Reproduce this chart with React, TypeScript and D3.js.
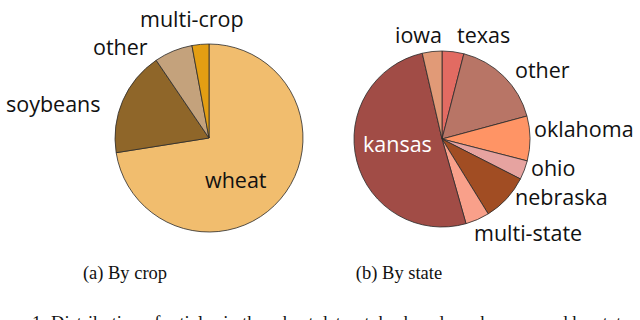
import * as d3 from 'd3';
import React from 'react';

// crop pie (clockwise from 12 o'clock)
const cropNames = ['wheat', 'soybeans', 'other', 'multi-crop'];
const cropShares = [72.5, 18.0, 6.6, 2.9];
const cropColors = ['#F1BD6E', '#8F6629', '#C4A27C', '#E39E13'];

// state pie (clockwise from 12 o'clock)
const stateNames = ['texas', 'other', 'oklahoma', 'ohio', 'nebraska', 'multi-state', 'kansas', 'iowa'];
const stateShares = [4.0, 16.8, 8.2, 3.5, 8.7, 4.4, 50.8, 3.6];
const stateColors = ['#E26B62', '#B87566', '#FF9465', '#E6A3A0', '#A14D23', '#F9A08A', '#A14C46', '#E19A77'];

const subCaptions = ['(a) By crop', '(b) By state'];
const figCaption = '1: Distribution of articles in the wheat dataset, broken down by crop and by state';

// label anchors (left x, baseline y) per slice
const cropLabelPos = [[205, 188], [6, 112], [93, 55], [140, 27]];
const stateLabelPos = [[457, 43], [515, 78], [534, 137], [531, 176], [515, 205], [474, 241], [363, 152], [395, 43]];

function Pie({ cx, cy, r, values, colors, names, labels, white }) {
  const arcs = d3.pie<number>().sort(null).value((d) => d)(values);
  const arc = d3.arc<d3.PieArcDatum<number>>().innerRadius(0).outerRadius(r);
  return (
    <g>
      <g transform={`translate(${cx},${cy})`}>
        {arcs.map((a, i) => (
          <path key={i} d={arc(a) || ''} fill={colors[i]} stroke="#2a2a2a" strokeWidth={0.8} strokeLinejoin="round" />
        ))}
      </g>
      {names.map((n, i) => (
        <text key={n + i} x={labels[i][0]} y={labels[i][1]}
          fill={white === n ? '#fff' : '#111'}
          style={{ fontFamily: 'Open Sans, sans-serif', fontSize: 21.5 }}>{n}</text>
      ))}
    </g>
  );
}

export default function App() {
  return (
    <svg width={640} height={320} style={{ position: 'absolute', left: 0, top: 0, background: '#fff' }}>
      <rect width={640} height={320} fill="#fff" />
      <Pie cx={209} cy={138} r={94} values={cropShares} colors={cropColors} names={cropNames} labels={cropLabelPos} white={null} />
      <Pie cx={442} cy={139} r={88} values={stateShares} colors={stateColors} names={stateNames} labels={stateLabelPos} white="kansas" />
      <g style={{ fontFamily: 'Liberation Serif, Times New Roman, serif', fontSize: 18.5 }} fill="#111">
        <text x={125} y={279} textAnchor="middle">{subCaptions[0]}</text>
        <text x={399} y={279} textAnchor="middle">{subCaptions[1]}</text>
        <text x={32} y={329}>{figCaption}</text>
      </g>
    </svg>
  );
}
